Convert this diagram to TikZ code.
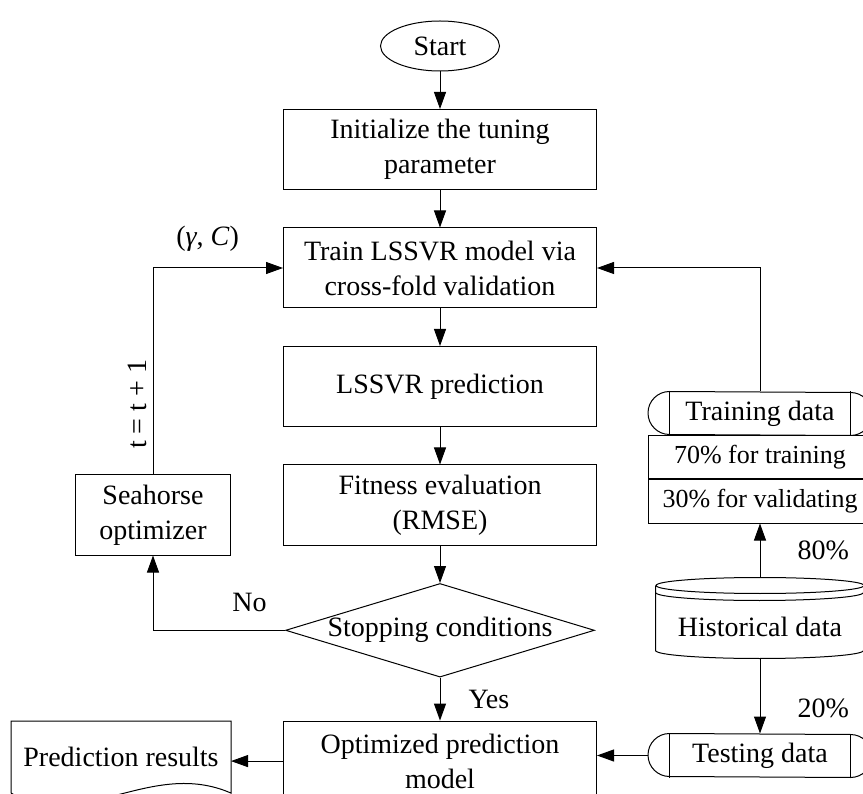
\documentclass[tikz,border=0pt]{standalone}
\usepackage{fontspec}
\setmainfont{Liberation Serif}
\usetikzlibrary{positioning,shapes.geometric,arrows.meta}

\tikzset{
  proc/.style={draw, rectangle, minimum width=313pt, minimum height=80pt, inner sep=0pt, align=center},
  term/.style={draw, ellipse, minimum width=119pt, minimum height=50pt, inner sep=0pt},
  decide/.style={draw, diamond, aspect=3.3, inner sep=0pt},
  part/.style={draw, rectangle, minimum width=223pt, minimum height=43pt, inner sep=0pt,
    font=\fontsize{26pt}{32pt}\selectfont},
  stored/.style={rectangle, minimum width=223pt, minimum height=43pt, inner sep=0pt,
    append after command={\pgfextra{\let\stnode=\tikzlastnode
      \draw ([xshift=21.5pt]\stnode.north west) arc[start angle=90, end angle=270, radius=21.5pt]
        -- ([xshift=-21.5pt]\stnode.south east) arc[start angle=-90, end angle=90, radius=21.5pt]
        -- cycle;
      \draw ([xshift=21.5pt]\stnode.north west) -- ([xshift=21.5pt]\stnode.south west)
        ([xshift=-21.5pt]\stnode.north east) -- ([xshift=-21.5pt]\stnode.south east);}}},
  database/.style={rectangle, minimum width=208pt, minimum height=80pt, inner sep=0pt,
    text height=36pt, text depth=0pt,
    append after command={\pgfextra{\let\dbnode=\tikzlastnode
      \draw ([yshift=-8pt]\dbnode.north) ellipse[x radius=104pt, y radius=8pt];
      \draw ([yshift=-15pt]\dbnode.north west) arc[start angle=180, end angle=360, x radius=104pt, y radius=8pt];
      \draw ([yshift=-8pt]\dbnode.north west) -- ([yshift=8pt]\dbnode.south west)
        arc[start angle=180, end angle=360, x radius=104pt, y radius=8pt]
        -- ([yshift=-8pt]\dbnode.north east);}}},
  doc/.style={rectangle, minimum width=219pt, minimum height=71pt, inner sep=0pt,
    append after command={\pgfextra{\let\docnode=\tikzlastnode
      \draw (\docnode.south west) -- (\docnode.north west) -- (\docnode.north east) -- (\docnode.south east)
        .. controls +(-80pt,35pt) and +(70pt,-40pt) .. (\docnode.south west);}}},
  lbl/.style={inner sep=0pt},
}

\begin{document}
\begin{tikzpicture}[x=1pt, y=1pt, line width=1pt, >={Triangle[length=17pt,width=12pt]},
  font=\fontsize{28pt}{35pt}\selectfont, node distance=37.5pt]

  \useasboundingbox (0,0) rectangle (863,-794);
  \clip (0,0) rectangle (863,-794);

  % Define nodes
  \node[term]                     (start) at (440,-46) {Start};
  \node[proc, below=of start]     (init)  {Initialize the tuning\\parameter};
  \node[proc, below=of init]      (train) {Train LSSVR model via\\cross-fold validation};
  \node[proc, below=of train]     (pred)  {LSSVR prediction};
  \node[proc, below=of pred]      (fit)   {Fitness evaluation\\(RMSE)};
  \node[decide, below=of fit]     (stop)  {Stopping conditions};
  \node[proc, below=43pt of stop] (opt)   {Optimized prediction\\model};
  \node[proc, minimum width=155pt, left=52pt of fit, yshift=-10pt] (sea) {Seahorse\\optimizer};
  \node[doc, left=52pt of opt, yshift=4pt] (res) {Prediction results};
  \node[database]                   (hist)  at (760,-618) {Historical data};
  \node[part, above=54pt of hist]   (val)   {30\% for validating};
  \node[part, above=0pt of val]     (trn)   {70\% for training};
  \node[stored, above=0pt of trn]   (tdata) {Training data};
  \node[stored, below=75pt of hist] (test)  {Testing data};

  % Connect the nodes
  \draw[->] (start) -- (init);
  \draw[->] (init) -- (train);
  \draw[->] (train) -- (pred);
  \draw[->] (pred) -- (fit);
  \draw[->] (fit) -- (stop);
  \draw[->] (stop) -- node[lbl, right=28pt] {Yes} (opt);
  \draw[->] (stop.west) -| node[lbl, pos=0.135, above=18pt] {No} (sea.south);
  \draw[->] (sea.north) |- node[lbl, pos=0.17, rotate=90, anchor=south, inner sep=6pt] {t = t + 1}
                           node[lbl, pos=0.71, above=16pt] {(\textit{γ}, \textit{C})} (train.west);
  \draw[->] (tdata.north) |- (train.east);
  \draw[->] (hist) -- node[lbl, right=37pt] {80\%} (val);
  \draw[->] (hist) -- node[lbl, pos=0.67, right=37pt] {20\%} (test);
  \draw[->] (test.west) -- (test.west -| opt.east);
  \draw[->] (opt.west) -- (opt.west -| res.east);

\end{tikzpicture}
\end{document}
